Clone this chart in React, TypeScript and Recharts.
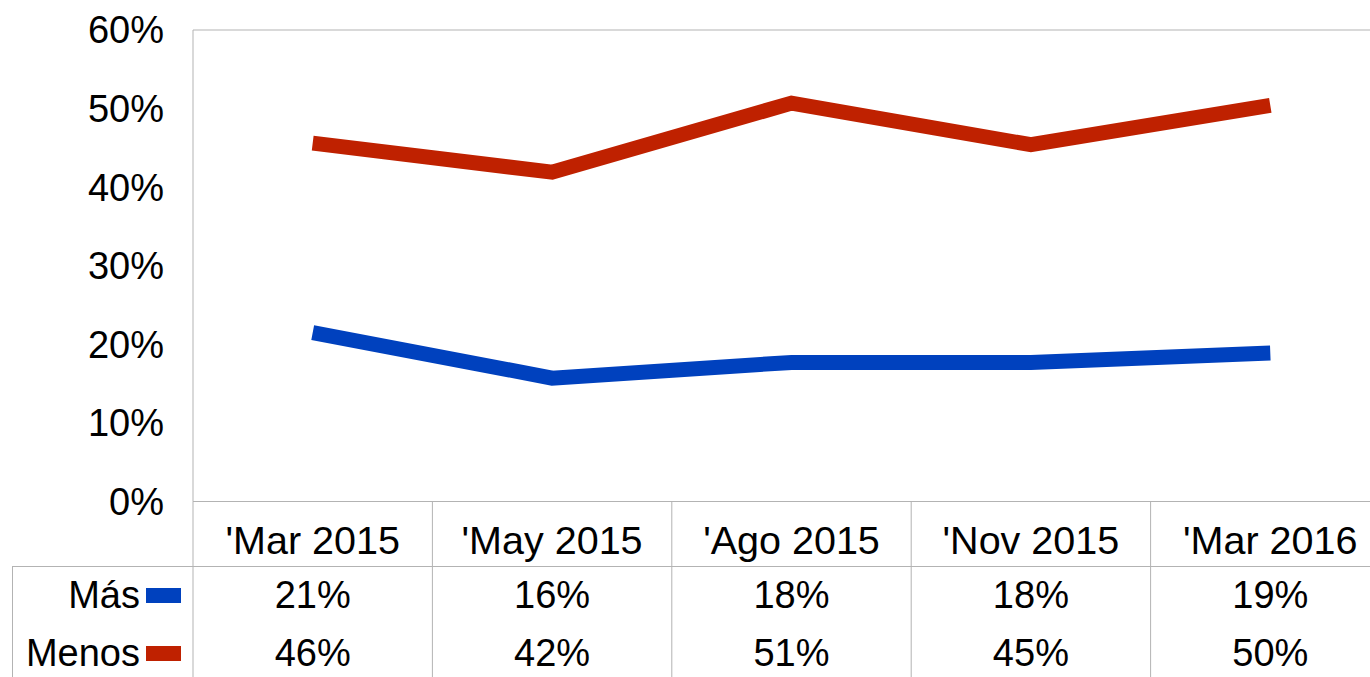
import React from "react";
import { LineChart, Line, XAxis, YAxis, ReferenceLine, Legend } from "recharts";

// values
const categories = ["'Mar 2015", "'May 2015", "'Ago 2015", "'Nov 2015", "'Mar 2016"];
const seriesNames = ["Más", "Menos"];
const masValues = [21.5, 15.7, 17.7, 17.7, 18.9];
const menosValues = [45.6, 41.9, 50.7, 45.4, 50.4];
const masLabels = ["21%", "16%", "18%", "18%", "19%"];
const menosLabels = ["46%", "42%", "51%", "45%", "50%"];
const yTicks = [0, 10, 20, 30, 40, 50, 60];

const data = categories.map((cat, i) => ({
  cat,
  mas: masValues[i],
  menos: menosValues[i],
  masLabel: masLabels[i],
  menosLabel: menosLabels[i],
}));

const W = 1400;
const H = 677;
const PLOT_LEFT = 193;
const PLOT_RIGHT = 1390;
const BAND = (PLOT_RIGHT - PLOT_LEFT) / categories.length;
const GRID = "#b3b3b3";
const FONT = 38;
const BLUE = "#0041be";
const RED = "#bf2100";

function TableTick(props: any) {
  const { x, y, payload, index } = props;
  const row = data[index] ?? data.find((d) => d.cat === payload.value);
  return (
    <g>
      <line x1={x - BAND / 2} x2={x - BAND / 2} y1={y} y2={H} stroke={GRID} strokeWidth={1} />
      <text x={x} y={y + 52} textAnchor="middle" fill="#000" fontSize={39.5}>
        {payload.value}
      </text>
      <text x={x} y={y + 106} textAnchor="middle" fill="#000" fontSize={FONT}>
        {row?.masLabel}
      </text>
      <text x={x} y={y + 164} textAnchor="middle" fill="#000" fontSize={FONT}>
        {row?.menosLabel}
      </text>
    </g>
  );
}

function RowHeaders(props: any) {
  const { payload = [] } = props;
  const items = seriesNames
    .map((n) => payload.find((p: any) => p.value === n))
    .filter(Boolean);
  return (
    <div style={{ position: "relative", width: "100%", height: "100%" }}>
      {items.map((p: any, i: number) => (
        <div
          key={p.value}
          style={{
            position: "absolute",
            left: 0,
            top: -1 + i * 58,
            width: 168,
            height: 58,
            display: "flex",
            justifyContent: "flex-end",
            alignItems: "center",
            fontSize: FONT,
            lineHeight: "58px",
            color: "#000",
          }}
        >
          <span>{p.value}</span>
          <span
            style={{
              display: "inline-block",
              width: 35,
              height: 15,
              marginLeft: 6,
              background: p.color,
            }}
          />
        </div>
      ))}
    </div>
  );
}

export default function App() {
  return (
    <div
      style={{
        position: "absolute",
        left: 0,
        top: 0,
        width: 1370,
        height: 677,
        overflow: "hidden",
        background: "#fff",
        fontFamily: "'Liberation Sans', Arial, sans-serif",
      }}
    >
      <LineChart width={W} height={H} data={data} margin={{ top: 30, right: W - PLOT_RIGHT, bottom: 0, left: 0 }}>
        <XAxis
          dataKey="cat"
          height={175.5}
          padding={{ left: BAND / 2, right: BAND / 2 }}
          axisLine={{ stroke: GRID }}
          tickLine={false}
          tickSize={0}
          tickMargin={0}
          interval={0}
          tick={<TableTick />}
        />
        <YAxis
          width={PLOT_LEFT}
          domain={[0, 60]}
          ticks={yTicks}
          tickFormatter={(v) => `${v}%`}
          axisLine={{ stroke: GRID }}
          tickLine={false}
          tickSize={0}
          tickMargin={29}
          tick={{ fill: "#000", fontSize: FONT }}
        />
        <ReferenceLine y={60} stroke={GRID} />
        <Legend
          layout="horizontal"
          verticalAlign="middle"
          align="center"
          content={<RowHeaders />}
          wrapperStyle={{
            left: 12,
            top: 566,
            width: 1400,
            height: 111,
            borderTop: `1px solid ${GRID}`,
            borderLeft: `1px solid ${GRID}`,
            boxSizing: "border-box",
          }}
        />
        <Line
          name="Más"
          dataKey="mas"
          stroke={BLUE}
          strokeWidth={15}
          dot={false}
          activeDot={false}
          isAnimationActive={false}
        />
        <Line
          name="Menos"
          dataKey="menos"
          stroke={RED}
          strokeWidth={15}
          dot={false}
          activeDot={false}
          isAnimationActive={false}
        />
      </LineChart>
    </div>
  );
}
